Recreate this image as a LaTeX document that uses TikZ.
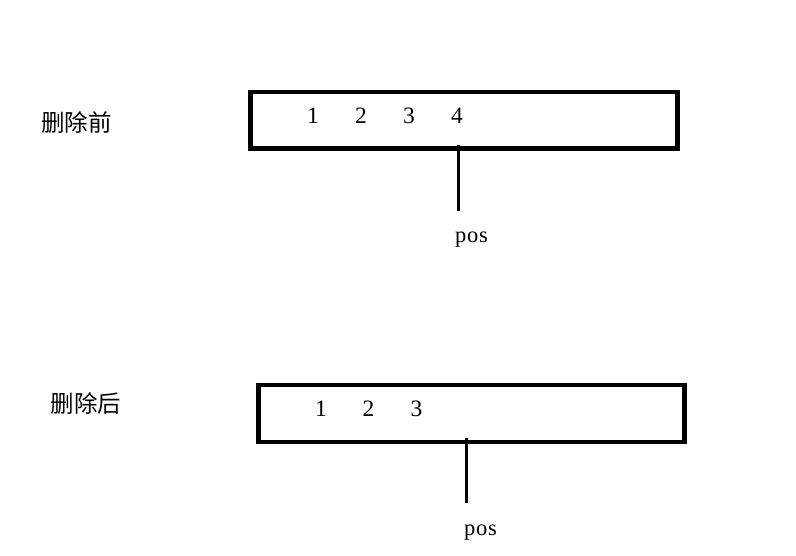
\documentclass[tikz,border=0pt]{standalone}
\usepackage{fontspec}
\setmainfont{Liberation Serif}
\newfontfamily\cjk{Noto Sans CJK SC}
\begin{document}
\begin{tikzpicture}[x=1pt,y=-1pt,
  arraybox/.style={draw,line width=4.6pt,rectangle,inner sep=0pt},
  digit/.style={anchor=base,inner sep=0pt,font=\fontsize{23.5}{27}\selectfont},
  poslabel/.style={anchor=base,inner sep=0pt,font=\fontsize{22.5}{26}\selectfont\addfontfeature{LetterSpace=3}},
  cjklabel/.style={inner sep=0pt,font=\cjk\fontsize{23.5}{27}\selectfont},
  pointer/.style={line width=3pt}]
\useasboundingbox (0,0) rectangle (796,555);
% before
\node[cjklabel] (lb1) at (76.3,122.8) {删除前};
\node[arraybox,minimum width=427.1pt,minimum height=56.5pt] (box1) at (464.05,120.25) {};
\node[digit] (a1) at (313,123.3) {1};
\node[digit] (a2) at (361,123.3) {2};
\node[digit] (a3) at (409,123.3) {3};
\node[digit] (a4) at (457,123.3) {4};
\coordinate (p1top) at (458.3,145);
\coordinate (p1bot) at (458.3,211);
\draw[pointer] (p1top) -- (p1bot);
\node[poslabel] (pos1) at (471.5,242.7) {pos};
% after
\node[cjklabel] (lb2) at (86,403.5) {删除后};
\node[arraybox,minimum width=425.8pt,minimum height=57pt] (box2) at (471.6,413.3) {};
\node[digit] (b1) at (321,416.7) {1};
\node[digit] (b2) at (368.5,416.7) {2};
\node[digit] (b3) at (416.5,416.7) {3};
\coordinate (p2top) at (466.3,437.7);
\coordinate (p2bot) at (466.3,503.3);
\draw[pointer] (p2top) -- (p2bot);
\node[poslabel] (pos2) at (480.5,535.7) {pos};
\end{tikzpicture}
\end{document}
